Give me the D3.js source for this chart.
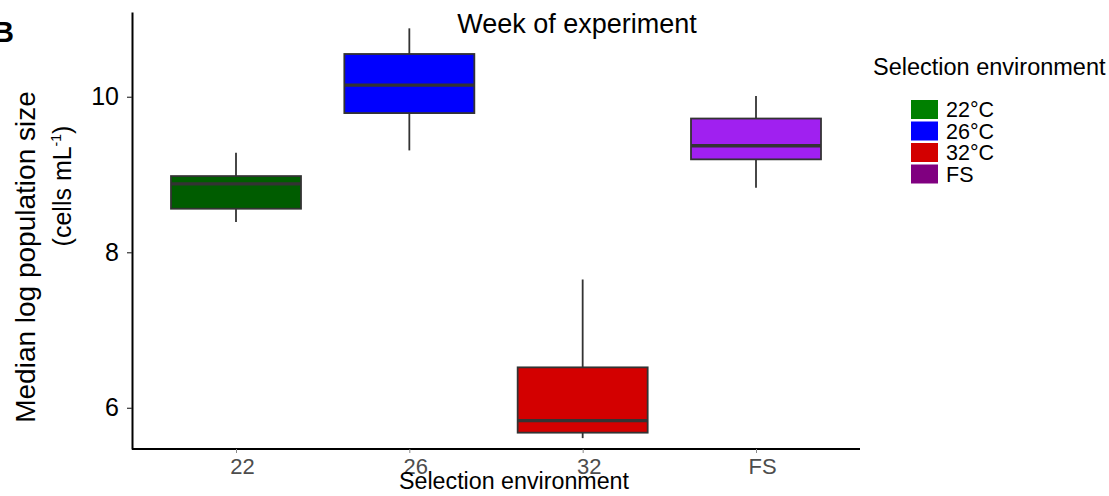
<!DOCTYPE html>
<html>
<head>
<meta charset="utf-8">
<script src="https://cdn.jsdelivr.net/npm/d3@7"></script>
<style>
  body { margin: 0; background: #fff; }
  svg { font-family: "Liberation Sans", Arial, Helvetica, sans-serif; }
</style>
</head>
<body>
<div id="chart"></div>
<script>
var categories = ["22", "26", "32", "FS"];
var legendLabels = ["22°C", "26°C", "32°C", "FS"];
var lowerWhisker = [8.39, 9.31, 5.61, 8.83];
var q1 = [8.56, 9.79, 5.68, 9.195];
var median = [8.88, 10.15, 5.835, 9.37];
var q3 = [8.98, 10.55, 6.52, 9.72];
var upperWhisker = [9.28, 10.88, 7.65, 10.01];
var yTicks = [6, 8, 10];
var boxFill = ["#005c00", "#0000ff", "#d30000", "#a020f0"];
var legendFill = ["#008000", "#0000ff", "#d30000", "#800080"];

var width = 1109, height = 496;
var margin = {top: 12, right: 249, bottom: 47, left: 132};

var svg = d3.select("#chart").append("svg")
    .attr("width", width)
    .attr("height", height);

var x = d3.scalePoint()
    .domain(categories)
    .range([margin.left, width - margin.right])
    .padding(0.6);

var y = d3.scaleLinear()
    .domain([5.47, 11.09])
    .range([height - margin.bottom, margin.top]);

var boxW = x.step() * 0.75;

var data = categories.map(function(c, i) {
  return {cat: c, lo: lowerWhisker[i], q1: q1[i], med: median[i], q3: q3[i], hi: upperWhisker[i], fill: boxFill[i]};
});

// boxes
var g = svg.selectAll("g.box").data(data)
  .enter().append("g")
    .attr("class", "box");

g.append("line")
    .attr("x1", function(d) { return x(d.cat); })
    .attr("x2", function(d) { return x(d.cat); })
    .attr("y1", function(d) { return y(d.hi); })
    .attr("y2", function(d) { return y(d.q3); })
    .attr("stroke", "#333").attr("stroke-width", 1.8);

g.append("line")
    .attr("x1", function(d) { return x(d.cat); })
    .attr("x2", function(d) { return x(d.cat); })
    .attr("y1", function(d) { return y(d.q1); })
    .attr("y2", function(d) { return y(d.lo); })
    .attr("stroke", "#333").attr("stroke-width", 1.8);

g.append("rect")
    .attr("x", function(d) { return x(d.cat) - boxW / 2; })
    .attr("y", function(d) { return y(d.q3); })
    .attr("width", boxW)
    .attr("height", function(d) { return y(d.q1) - y(d.q3); })
    .attr("fill", function(d) { return d.fill; })
    .attr("stroke", "#333").attr("stroke-width", 1.8);

g.append("line")
    .attr("x1", function(d) { return x(d.cat) - boxW / 2; })
    .attr("x2", function(d) { return x(d.cat) + boxW / 2; })
    .attr("y1", function(d) { return y(d.med); })
    .attr("y2", function(d) { return y(d.med); })
    .attr("stroke", "#333").attr("stroke-width", 3.4);

// axes
var yAxis = svg.append("g")
    .attr("transform", "translate(" + margin.left + ",0)")
    .call(d3.axisLeft(y).tickValues(yTicks).tickFormat(d3.format("d"))
      .tickSize(5).tickSizeOuter(0).tickPadding(8));
yAxis.select(".domain").attr("stroke", "#000").attr("stroke-width", 2);
yAxis.selectAll(".tick line").attr("stroke", "#333").attr("stroke-width", 1.2);
yAxis.selectAll(".tick text").attr("fill", "#000").attr("font-size", 25)
    .attr("font-family", "Liberation Sans, Arial, sans-serif");

var xAxis = svg.append("g")
    .attr("transform", "translate(0," + (height - margin.bottom) + ")")
    .call(d3.axisBottom(x).tickSize(4).tickSizeOuter(0).tickPadding(5));
xAxis.select(".domain").attr("stroke", "#000").attr("stroke-width", 2)
    .attr("d", "M" + margin.left + ",0H" + (width - margin.right));
xAxis.selectAll(".tick line").attr("stroke", "#888").attr("stroke-width", 1);
xAxis.selectAll(".tick text").attr("fill", "#4d4d4d").attr("font-size", 22)
    .attr("dx", 6)
    .attr("font-family", "Liberation Sans, Arial, sans-serif");

// titles
svg.append("text")
    .attr("x", 514).attr("y", 489)
    .attr("text-anchor", "middle")
    .attr("font-size", 23)
    .attr("textLength", 230).attr("lengthAdjust", "spacingAndGlyphs")
    .text("Selection environment");

svg.append("text")
    .attr("x", 577).attr("y", 33)
    .attr("text-anchor", "middle")
    .attr("font-size", 27)
    .text("Week of experiment");

svg.append("text")
    .attr("x", -7).attr("y", 42)
    .attr("font-size", 29).attr("font-weight", "bold")
    .text("B");

svg.append("text")
    .attr("transform", "translate(35,257) rotate(-90)")
    .attr("text-anchor", "middle")
    .attr("font-size", 28)
    .text("Median log population size");

var yl2 = svg.append("text")
    .attr("transform", "translate(71,186) rotate(-90)")
    .attr("text-anchor", "middle")
    .attr("font-size", 25);
yl2.append("tspan").text("(cells mL");
yl2.append("tspan").attr("font-size", 14).attr("dy", -10).text("-1");
yl2.append("tspan").attr("dy", 10).text(")");

// legend
var legend = svg.append("g").attr("transform", "translate(873,0)");
legend.append("text")
    .attr("x", 0).attr("y", 75)
    .attr("font-size", 23.5)
    .text("Selection environment");

var item = legend.selectAll("g.item").data(legendLabels)
  .enter().append("g")
    .attr("class", "item")
    .attr("transform", function(d, i) { return "translate(38," + (100 + i * 21.5) + ")"; });
item.append("rect")
    .attr("width", 27).attr("height", 19)
    .attr("fill", function(d, i) { return legendFill[i]; });
item.append("text")
    .attr("x", 35).attr("y", 17)
    .attr("font-size", 21.5)
    .text(function(d) { return d; });
</script>
</body>
</html>
